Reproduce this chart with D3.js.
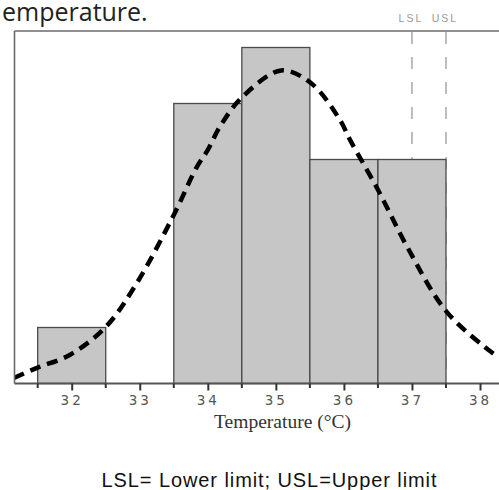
<!DOCTYPE html>
<html>
<head>
<meta charset="utf-8">
<script src="https://cdn.jsdelivr.net/npm/d3@7"></script>
<style>
  html, body { margin: 0; padding: 0; background: #fff; }
  svg { display: block; }
</style>
</head>
<body>
<svg id="chart" width="499" height="490"></svg>
<script>
// ---- data ----
const binCenters = [32, 33, 34, 35, 36, 37];
const binCounts  = [1, 0, 5, 6, 4, 4];
const binWidth = 1;
const tickValues = [32, 33, 34, 35, 36, 37, 38];
const tickLabels = ["32", "33", "34", "35", "36", "37", "38"];
const curveX = [31.15, 31.49, 31.97, 32.50, 32.96, 33.50, 33.84, 34.00, 34.18, 34.51, 35.08, 35.52, 35.94, 36.09, 36.50, 36.93, 37.51, 38.19, 38.28];
const curveY = [0.10, 0.28, 0.51, 1.01, 1.80, 3.01, 3.87, 4.17, 4.59, 5.12, 5.59, 5.36, 4.71, 4.35, 3.46, 2.44, 1.28, 0.54, 0.47];
const specNames = ["LSL", "USL"];
const specValues = [37.0, 37.5];
const titleText = "emperature.";
const xAxisTitle = "Temperature (°C)";
const captionText = "LSL= Lower limit; USL=Upper limit";

// ---- layout ----
const svg = d3.select("#chart");
const pLeft = 14.5, pRight = 499, pTop = 31, pBottom = 383.5;
const x = d3.scaleLinear().domain([31.152, 38.279]).range([14, 499]);
const y = d3.scaleLinear().domain([0, (pBottom - pTop) / 56]).range([pBottom, pTop]);

svg.append("defs").append("clipPath").attr("id", "plotClip")
  .append("rect").attr("x", pLeft).attr("y", pTop).attr("width", pRight - pLeft).attr("height", pBottom - pTop);

// title fragment
svg.append("text").attr("x", 2).attr("y", 21)
  .attr("font-family", "Open Sans").attr("font-size", 25).attr("fill", "#222")
  .text(titleText);

// spec lines (behind bars)
svg.append("g").selectAll("line").data(specValues).join("line")
  .attr("x1", d => x(d)).attr("x2", d => x(d))
  .attr("y1", pTop).attr("y2", pBottom)
  .attr("stroke", "#9a9a9a").attr("stroke-width", 1.3)
  .attr("stroke-dasharray", "12,13").attr("stroke-dashoffset", -1);

svg.append("g").selectAll("text").data(specNames).join("text")
  .attr("x", (d, i) => x(specValues[i]) - 1)
  .attr("y", 21.5)
  .attr("text-anchor", "middle")
  .attr("font-family", "Liberation Sans").attr("font-size", 10.5)
  .attr("letter-spacing", 2).attr("fill", "#999")
  .text(d => d);

// bars
svg.append("g").selectAll("rect").data(binCenters.map((c, i) => ({c, n: binCounts[i]})).filter(d => d.n > 0))
  .join("rect")
  .attr("x", d => x(d.c - binWidth / 2))
  .attr("width", d => x(d.c + binWidth / 2) - x(d.c - binWidth / 2))
  .attr("y", d => y(d.n))
  .attr("height", d => y(0) - y(d.n))
  .attr("fill", "#c6c6c6").attr("stroke", "#4a4a4a").attr("stroke-width", 1.3);

// fitted curve
const pts = curveX.map((v, i) => [v, curveY[i]]);
svg.append("path").datum(pts)
  .attr("clip-path", "url(#plotClip)")
  .attr("d", d3.line().x(d => x(d[0])).y(d => y(d[1])).curve(d3.curveCatmullRom))
  .attr("fill", "none").attr("stroke", "#000").attr("stroke-width", 4.5)
  .attr("stroke-dasharray", "11,7");

// frame
svg.append("line").attr("x1", pLeft).attr("x2", pRight).attr("y1", pTop).attr("y2", pTop)
  .attr("stroke", "#6a6a6a").attr("stroke-width", 1.6);
svg.append("line").attr("x1", pLeft).attr("x2", pLeft).attr("y1", pTop).attr("y2", pBottom)
  .attr("stroke", "#6a6a6a").attr("stroke-width", 1.6);

// x axis
const axisG = svg.append("g").attr("transform", `translate(0,${pBottom})`);
const minorTicks = tickValues.slice(0, -1).map(v => v - 0.5).concat([37.5]);
axisG.call(d3.axisBottom(x).tickValues(tickValues).tickFormat((d, i) => tickLabels[i]).tickSize(7).tickSizeOuter(0));
axisG.select(".domain").attr("stroke", "#555").attr("stroke-width", 1.8).attr("d", `M${pLeft},0H${pRight}`);
axisG.selectAll(".tick line").attr("stroke", "#333").attr("stroke-width", 2);
axisG.selectAll(".tick text")
  .attr("font-family", "DejaVu Sans").attr("font-size", 13.5)
  .attr("letter-spacing", 3).attr("fill", "#555").attr("y", 11.5).attr("dy", "0.71em")
  .attr("dx", 0);
axisG.append("g").selectAll("line").data(minorTicks).join("line")
  .attr("x1", d => x(d)).attr("x2", d => x(d)).attr("y1", 0).attr("y2", 4.5)
  .attr("stroke", "#333").attr("stroke-width", 2);

svg.append("text").attr("x", 214).attr("y", 428.3)
  .attr("font-family", "Liberation Serif").attr("font-size", 19)
  .attr("textLength", 137).attr("lengthAdjust", "spacingAndGlyphs")
  .attr("fill", "#333").text(xAxisTitle);

svg.append("text").attr("x", 101.5).attr("y", 487.3)
  .attr("font-family", "Liberation Sans").attr("font-size", 20)
  .attr("textLength", 335).attr("lengthAdjust", "spacing")
  .attr("fill", "#111").text(captionText);
</script>
</body>
</html>
